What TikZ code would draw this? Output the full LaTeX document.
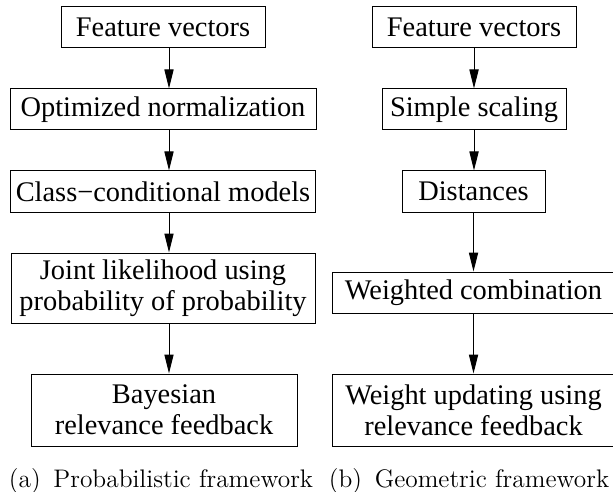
\documentclass[tikz,border=0pt]{standalone}
\usepackage{fontspec}
\newfontfamily\stagefont{Liberation Serif}
\usetikzlibrary{arrows.meta}
\tikzset{
  >={Triangle[length=9.5pt,width=4.6pt]},
  stage/.style={draw,line width=0.5pt,minimum width=#1,minimum height=20.5pt,
    inner sep=0pt,align=center,font=\stagefont\fontsize{14.2pt}{15.5pt}\selectfont},
  stage/.default=100pt,
  flow/.style={->,line width=0.5pt},
  subcap/.style={anchor=base,font=\fontsize{12.7pt}{15pt}\selectfont},
}
\begin{document}
\begin{tikzpicture}[x=0.5pt,y=-0.5pt]
  \useasboundingbox (0,0) rectangle (613,491);
  % probabilistic framework
  \node[stage=102pt] (a1) at (163,27.5) {Feature vectors};
  \node[stage=153pt] (a2) at (163,109.5) {Optimized normalization};
  \node[stage=152.5pt] (a3) at (163,191.5) {Class−conditional models};
  \node[stage=152pt,minimum height=35pt] (a4) at (163,288) {Joint likelihood using\\probability of probability};
  \node[stage=133pt,minimum height=36pt] (a5) at (164,410) {Bayesian\\relevance feedback};
  \foreach \i [evaluate=\i as \j using int(\i+1)] in {1,2,3,4}
    \draw[flow] ([xshift=3pt]a\i.south) -- ([xshift=3pt]a\i.south |- a\j.north);
  % geometric framework
  \node[stage=102pt] (b1) at (474,27.5) {Feature vectors};
  \node[stage=92pt] (b2) at (474,109.5) {Simple scaling};
  \node[stage=71.5pt] (b3) at (473.5,191.5) {Distances};
  \node[stage=141pt] (b4) at (473.5,292.5) {Weighted combination};
  \node[stage=141pt,minimum height=36pt] (b5) at (473.5,410) {Weight updating using\\relevance feedback};
  \foreach \i [evaluate=\i as \j using int(\i+1)] in {1,2,3,4}
    \draw[flow] (b\i.south) -- (b\i.south |- b\j.north);
  \node[subcap] (capa) at (161,487) {(a)\enspace Probabilistic framework};
  \node[subcap] (capb) at (469,487) {(b)\enspace Geometric framework};
\end{tikzpicture}
\end{document}
